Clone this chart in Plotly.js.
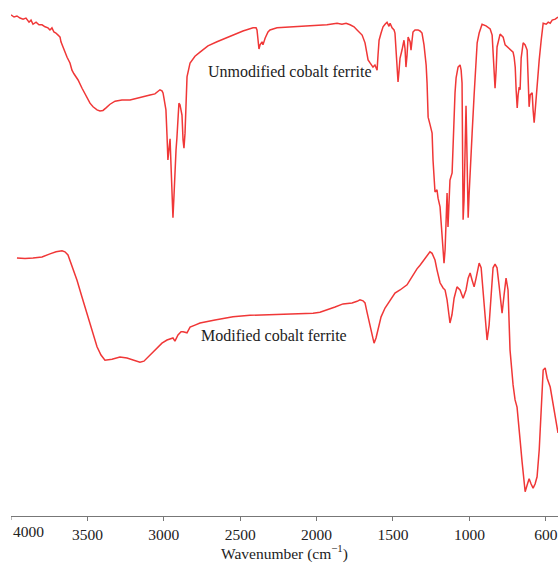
<!DOCTYPE html>
<html>
<head>
<meta charset="utf-8">
<script src="https://cdn.plot.ly/plotly-3.0.1.min.js"></script>
<style>html,body{margin:0;padding:0;background:#fff;}#chart{width:558px;height:563px;}</style>
</head>
<body>
<div id="chart"></div>
<script>
// Unmodified cobalt ferrite (wavenumber cm^-1, transmittance a.u.)
const unmodWn = [4000,3980,3961,3941,3921,3902,3882,3869,3856,3836,3817,3797,3777,3758,3745,3732,3719,3706,3692,3679,3673,3660,3647,3633,3614,3601,3588,3561,3535,3503,3483,3463,3437,3418,3398,3378,3352,3319,3274,3221,3175,3136,3090,3058,3038,3025,3012,3005,2999,2992,2986,2979,2973,2966,2959,2953,2946,2940,2933,2927,2920,2914,2907,2901,2894,2887,2881,2874,2868,2861,2855,2848,2828,2796,2763,2711,2652,2599,2547,2482,2416,2396,2390,2383,2377,2370,2357,2351,2337,2318,2305,2259,2174,2043,1932,1899,1866,1834,1807,1781,1755,1735,1715,1702,1683,1670,1663,1650,1631,1618,1604,1598,1591,1578,1565,1552,1539,1526,1519,1506,1493,1487,1480,1473,1467,1460,1454,1441,1428,1421,1415,1408,1401,1388,1382,1375,1369,1356,1336,1323,1310,1297,1283,1277,1270,1257,1244,1238,1231,1225,1212,1205,1192,1179,1166,1159,1153,1146,1140,1133,1127,1113,1107,1100,1094,1087,1074,1061,1054,1048,1045,1041,1035,1028,1022,1015,1008,1002,995,982,969,949,936,917,891,864,851,845,838,832,825,819,799,779,766,753,733,714,707,700,694,687,681,674,668,661,648,635,622,615,609,602,589,583,576,569,556,543,530,517,497,484,471,458,438,420];
const unmodT = [97.1,96.7,96.9,96.5,96.3,96.5,95.7,96.1,95.3,95.7,95.2,95.2,94.8,94.6,94.2,94.6,93.8,93.6,93.2,92.8,91.9,90.9,89.9,88.9,87.8,86.4,85.7,84.5,82.9,81.2,80.0,79.3,78.7,78.5,78.6,79.1,79.8,80.4,80.6,80.6,81.0,81.2,81.6,81.8,82.2,82.6,82.4,82.0,81.0,79.8,78.7,73.8,69.0,71.1,73.1,68.2,62.2,57.8,62.2,67.6,70.9,73.3,77.5,80.0,79.7,78.7,77.7,72.9,71.3,74.2,80.6,85.1,87.8,89.1,89.9,91.1,91.9,92.6,93.2,94.0,94.6,94.6,94.2,92.2,90.5,91.3,91.9,91.3,92.6,93.8,94.2,94.6,94.8,95.0,95.2,95.3,95.5,95.3,95.5,95.2,94.8,94.2,93.6,93.2,91.7,89.9,88.4,87.8,87.0,87.4,86.4,89.3,92.2,93.6,94.8,95.3,95.7,94.9,95.5,94.6,94.2,93.6,90.3,86.4,84.1,86.4,88.7,90.3,92.2,90.5,87.0,89.3,92.8,91.9,90.3,92.2,93.8,94.2,94.2,94.0,93.6,91.3,87.4,83.9,77.3,75.8,74.2,69.0,65.1,62.8,63.2,61.6,59.9,54.5,49.0,51.6,58.3,62.6,56.0,61.2,65.1,66.5,72.7,78.7,82.0,84.9,87.0,87.4,86.4,83.9,74.8,57.4,61.2,72.9,79.5,69.0,57.8,62.2,67.1,74.2,81.6,91.7,93.6,95.3,95.0,94.4,93.2,90.3,86.4,82.9,86.4,90.9,93.4,92.8,91.3,90.9,90.3,89.9,88.9,87.0,82.6,79.1,81.6,83.1,82.6,88.8,91.7,91.3,90.3,84.5,79.3,81.6,82.0,78.7,76.2,78.7,83.9,88.4,92.2,95.5,95.3,95.7,95.5,96.1,96.3,96.7];

// Modified cobalt ferrite
const modWn = [3961,3908,3856,3797,3745,3705,3666,3647,3627,3601,3568,3535,3503,3470,3437,3411,3385,3339,3287,3241,3195,3156,3130,3110,3077,3045,3012,2979,2940,2927,2907,2887,2874,2848,2828,2796,2763,2665,2547,2436,2324,2239,2108,2023,1978,1932,1879,1827,1768,1735,1716,1696,1683,1670,1650,1637,1624,1611,1598,1578,1552,1519,1487,1454,1428,1408,1389,1369,1343,1323,1290,1258,1244,1225,1212,1192,1172,1159,1146,1127,1114,1100,1081,1061,1041,1022,1008,995,982,969,956,936,923,910,897,884,871,858,845,832,819,806,793,786,773,760,747,734,714,701,688,675,668,655,642,635,622,609,596,583,570,557,543,530,517,504,491,471,458,438,420];
const modT = [50.0,49.9,50.0,50.2,50.8,51.2,51.4,51.2,50.6,48.6,45.7,42.4,39.3,36.0,32.8,31.2,30.2,30.4,30.8,30.6,30.2,29.8,30.0,30.6,31.6,32.6,33.5,34.1,34.5,33.9,35.1,35.7,35.7,35.5,36.6,37.0,37.4,38.0,38.6,38.9,39.0,39.1,39.2,39.3,39.5,39.9,40.5,41.1,41.3,41.6,41.9,41.7,41.3,39.5,36.6,34.7,33.5,34.5,36.0,38.6,40.3,41.9,43.2,43.8,44.4,44.8,45.7,46.7,47.9,48.6,50.0,51.2,50.9,49.6,47.7,45.2,44.2,43.8,41.9,37.4,39.0,42.2,44.4,43.8,42.2,43.8,46.1,47.1,45.7,44.4,46.1,49.0,48.1,43.8,38.0,34.1,37.0,43.8,48.1,48.8,48.1,44.8,40.9,39.3,42.8,46.1,43.8,32.2,25.4,22.5,21.1,17.6,14.7,10.5,6.6,4.7,6.0,7.2,6.2,5.4,6.2,7.6,12.8,20.5,28.3,28.7,26.7,25.0,22.9,19.2,16.1];

const tickVals = [3500,3000,2500,2000,1500,1000,500];
const tickText = ["3500","3000","2500","2000","1500","1000","600"];
const labels = ["Unmodified cobalt ferrite","Modified cobalt ferrite"];

const lineStyle = {color:'rgb(240,55,55)', width:1.5};
const traces = [
  {x: unmodWn, y: unmodT, type:'scatter', mode:'lines', line: lineStyle, name: labels[0], hoverinfo:'skip'},
  {x: modWn, y: modT, type:'scatter', mode:'lines', line: lineStyle, name: labels[1], hoverinfo:'skip'}
];

const fam = '"Liberation Serif", "Times New Roman", serif';
const tickFont = {family: fam, size:15.5, color:'#222'};
const labelFont = {family: fam, size:16, color:'#222'};
const layout = {
  width:558, height:563,
  margin:{l:11, r:0, t:0, b:47, pad:0},
  paper_bgcolor:'#fff', plot_bgcolor:'#fff',
  showlegend:false,
  font: tickFont,
  xaxis:{
    range:[4000,420], showgrid:false, zeroline:false,
    showline:true, linecolor:'#777', linewidth:1,
    ticks:'outside', ticklen:4, tickcolor:'#777', tickwidth:1,
    tickvals: tickVals, ticktext: tickText,
    tickfont: tickFont,
    title:{text:'Wavenumber (cm<sup>−1</sup>)', font: tickFont, standoff:6}
  },
  yaxis:{range:[0,100], visible:false, showgrid:false, zeroline:false},
  shapes:[
    {type:'line', xref:'x', x0:4000, x1:4000, yref:'paper', ysizemode:'pixel', yanchor:0, y0:0, y1:-4, line:{color:'#777', width:1}}
  ],
  annotations:[
    {text:'4000', x:4000, xref:'x', xanchor:'left', y:0, yref:'paper', yanchor:'top', yshift:-5, showarrow:false, font: tickFont},
    {text: labels[0], x:2724, xref:'x', xanchor:'left', y:86.2, yref:'y', yanchor:'middle', showarrow:false, font: labelFont},
    {text: labels[1], x:2770, xref:'x', xanchor:'left', y:34.9, yref:'y', yanchor:'middle', showarrow:false, font: labelFont}
  ]
};

Plotly.newPlot('chart', traces, layout, {staticPlot:true, displayModeBar:false});
</script>
</body>
</html>
